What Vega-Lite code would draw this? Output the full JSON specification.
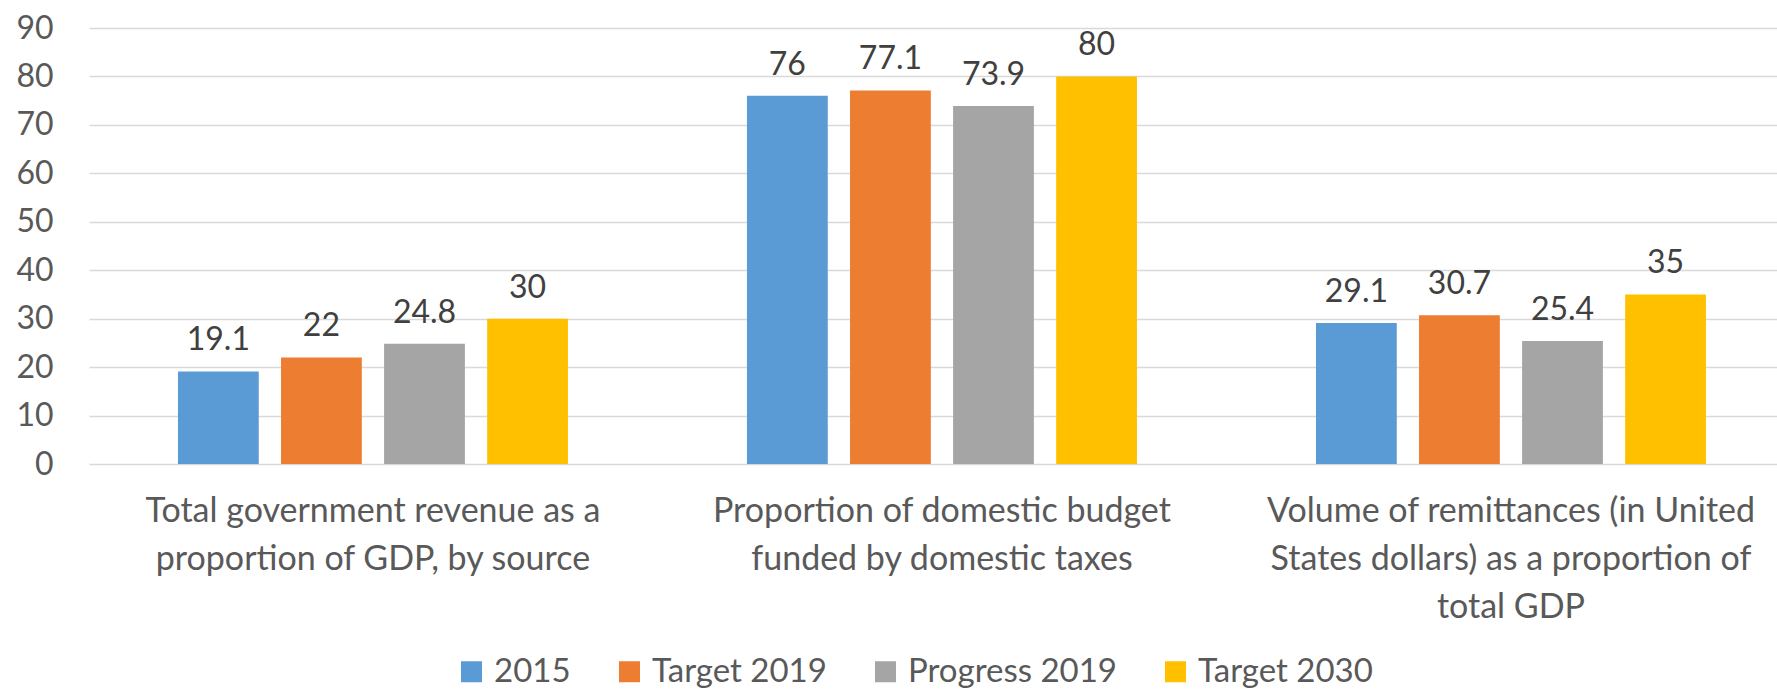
{
  "$schema": "https://vega.github.io/schema/vega-lite/v6.json",
  "autosize": {"type": "none"},
  "padding": {"left": 89, "top": 28, "right": 0, "bottom": 226},
  "width": 1688,
  "height": 436,
  "background": "white",
  "config": {
    "view": {"stroke": null},
    "font": "Lato",
    "axis": {"labelFont": "Lato", "labelColor": "#595959", "labelFontSize": 32}
  },
  "data": {
    "values": [
      {"indicator": "Total government revenue as a proportion of GDP, by source", "series": "2015", "value": 19.1},
      {"indicator": "Total government revenue as a proportion of GDP, by source", "series": "Target 2019", "value": 22},
      {"indicator": "Total government revenue as a proportion of GDP, by source", "series": "Progress 2019", "value": 24.8},
      {"indicator": "Total government revenue as a proportion of GDP, by source", "series": "Target 2030", "value": 30},
      {"indicator": "Proportion of domestic budget funded by domestic taxes", "series": "2015", "value": 76},
      {"indicator": "Proportion of domestic budget funded by domestic taxes", "series": "Target 2019", "value": 77.1},
      {"indicator": "Proportion of domestic budget funded by domestic taxes", "series": "Progress 2019", "value": 73.9},
      {"indicator": "Proportion of domestic budget funded by domestic taxes", "series": "Target 2030", "value": 80},
      {"indicator": "Volume of remittances (in United States dollars) as a proportion of total GDP", "series": "2015", "value": 29.1},
      {"indicator": "Volume of remittances (in United States dollars) as a proportion of total GDP", "series": "Target 2019", "value": 30.7},
      {"indicator": "Volume of remittances (in United States dollars) as a proportion of total GDP", "series": "Progress 2019", "value": 25.4},
      {"indicator": "Volume of remittances (in United States dollars) as a proportion of total GDP", "series": "Target 2030", "value": 35}
    ]
  },
  "encoding": {
    "x": {
      "field": "indicator",
      "type": "nominal",
      "sort": null,
      "scale": {"paddingInner": 0.3146, "paddingOuter": 0.1406, "align": 0.556},
      "axis": {
        "title": null,
        "domain": false,
        "ticks": false,
        "labelAngle": 0,
        "labelPadding": 30,
        "labelBaseline": "top",
        "labelFontSize": 34,
        "labelLineHeight": 48,
        "labelLimit": 600,
        "labelExpr": "datum.value == 'Total government revenue as a proportion of GDP, by source' ? ['Total government revenue as a', 'proportion of GDP, by source'] : datum.value == 'Proportion of domestic budget funded by domestic taxes' ? ['Proportion of domestic budget', 'funded by domestic taxes'] : ['Volume of remittances (in United', 'States dollars) as a proportion of', 'total GDP']"
      }
    },
    "xOffset": {
      "field": "series",
      "type": "nominal",
      "sort": ["2015", "Target 2019", "Progress 2019", "Target 2030"],
      "scale": {"paddingInner": 0.216, "paddingOuter": 0}
    },
    "y": {
      "field": "value",
      "type": "quantitative",
      "scale": {"domain": [0, 90], "nice": false},
      "axis": {
        "title": null,
        "values": [0, 10, 20, 30, 40, 50, 60, 70, 80, 90],
        "domain": false,
        "ticks": false,
        "labelPadding": 36,
        "gridColor": "#d9d9d9",
        "gridWidth": 1.5
      }
    }
  },
  "layer": [
    {
      "mark": {"type": "bar"},
      "encoding": {
        "color": {
          "field": "series",
          "type": "nominal",
          "sort": ["2015", "Target 2019", "Progress 2019", "Target 2030"],
          "scale": {
            "domain": ["2015", "Target 2019", "Progress 2019", "Target 2030"],
            "range": ["#5B9BD5", "#ED7D31", "#A5A5A5", "#FFC000"]
          },
          "legend": {
            "title": null,
            "orient": "none",
            "direction": "horizontal",
            "legendX": 366,
            "legendY": 627,
            "padding": 0,
            "symbolType": "square",
            "symbolSize": 441,
            "symbolStrokeWidth": 0,
            "symbolOpacity": 1,
            "labelFont": "Lato",
            "labelFontSize": 33,
            "labelColor": "#595959",
            "labelOffset": 6,
            "columnPadding": 42,
            "labelLimit": 400
          }
        }
      }
    },
    {
      "mark": {"type": "text", "baseline": "alphabetic", "dy": -21, "font": "Lato", "fontSize": 32, "color": "#404040"},
      "encoding": {
        "text": {"field": "value", "type": "quantitative"}
      }
    }
  ]
}
